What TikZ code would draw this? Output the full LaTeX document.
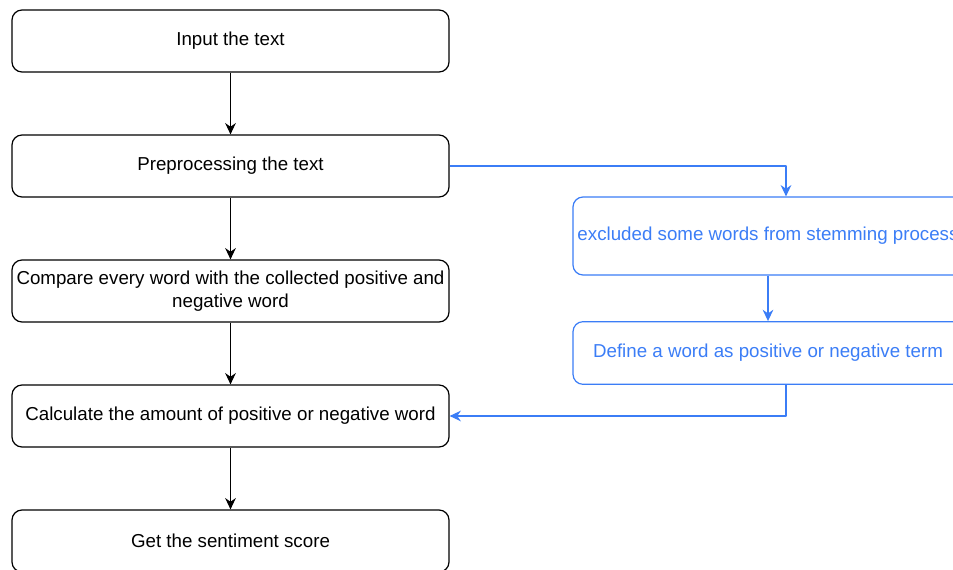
\documentclass[tikz,border=0pt]{standalone}
\usepackage{fontspec}
\setmainfont{Liberation Sans}
\usetikzlibrary{arrows.meta}
\definecolor{flowblue}{RGB}{59,125,246}
\tikzset{
  stepbox/.style={draw, rounded corners=7.5pt, line width=0.9pt, align=center,
    minimum width=327.75pt, minimum height=46.5pt, inner sep=0pt,
    font=\fontsize{14.05}{17.25}\selectfont},
  sidebox/.style={stepbox, draw=flowblue, text=flowblue, minimum width=292.5pt},
  flow/.style={line width=0.9pt, -{Stealth[length=8.5pt,width=8pt]}},
  sideflow/.style={flow, draw=flowblue, -{Stealth[length=8.5pt,width=8pt,flowblue]}}
}
\begin{document}
\begin{tikzpicture}[x=0.75pt, y=-0.75pt, line join=round]
  \useasboundingbox (0,0) rectangle (953,570);
  \clip (0,0) rectangle (953,570);
  % main column
  \node[stepbox] (input) at (230.5,41) {Input the text};
  \node[stepbox] (prep) at (230.5,166) {Preprocessing the text};
  \node[stepbox] (compare) at (230.5,291) {Compare every word with the collected positive and\\negative word};
  \node[stepbox] (calc) at (230.5,416) {Calculate the amount of positive or negative word};
  \node[stepbox] (score) at (230.5,541) {Get the sentiment score};
  % side column
  \node[sidebox, minimum height=58.5pt] (exclude) at (768,236) {excluded some words from stemming process};
  \node[sidebox, minimum height=47pt] (define) at (768,353) {Define a word as positive or negative term};
  \draw[flow] (input) -- (prep);
  \draw[flow] (prep) -- (compare);
  \draw[flow] (compare) -- (calc);
  \draw[flow] (calc) -- (score);
  \draw[sideflow] (prep.east) -| ([xshift=13.5pt]exclude.north);
  \draw[sideflow] (exclude) -- (define);
  \draw[sideflow] ([xshift=13.5pt]define.south) |- (calc.east);
\end{tikzpicture}
\end{document}
